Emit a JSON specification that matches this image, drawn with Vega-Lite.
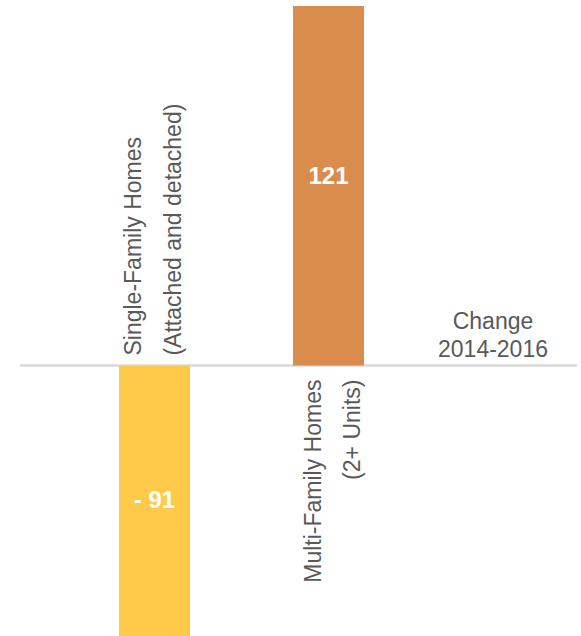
{
  "$schema": "https://vega.github.io/schema/vega-lite/v6.json",
  "width": 557,
  "height": 636,
  "autosize": {"type": "none"},
  "padding": {"left": 20, "right": 4, "top": 0, "bottom": 0},
  "background": "white",
  "config": {"view": {"stroke": null}, "font": "Liberation Sans"},
  "data": {"values": [
    {"category": "Single", "value": -91, "label": "- 91", "name": ["Single-Family Homes", "(Attached and detached)"]},
    {"category": "Multi", "value": 121, "label": "121", "name": ["Multi-Family Homes", "(2+ Units)"]}
  ]},
  "encoding": {
    "x": {"field": "category", "type": "nominal", "axis": null,
      "scale": {"domain": ["Single", "Multi", "Change"], "range": [99, 518], "paddingInner": 0.592, "paddingOuter": 0}}
  },
  "layer": [
    {"mark": {"type": "rule", "color": "#D9D9D9", "strokeWidth": 2},
     "encoding": {"x": null, "y": {"datum": 0, "type": "quantitative", "scale": {"domain": [-91, 123], "nice": false, "zero": false}, "axis": null}}},
    {"mark": {"type": "bar"},
     "encoding": {
       "y": {"field": "value", "type": "quantitative", "scale": {"domain": [-91, 123], "nice": false}, "axis": null},
       "y2": {"datum": 0},
       "color": {"field": "category", "type": "nominal", "scale": {"domain": ["Single", "Multi"], "range": ["#FFCA4A", "#D98C4B"]}, "legend": null}
     }},
    {"transform": [{"filter": "datum.value > 0"}],
     "mark": {"type": "text", "font": "Liberation Sans", "fontSize": 24, "fontWeight": "bold", "color": "white", "baseline": "middle", "dy": 171.5},
     "encoding": {"y": {"field": "value", "type": "quantitative"}, "text": {"field": "label"}}},
    {"transform": [{"filter": "datum.value < 0"}],
     "mark": {"type": "text", "font": "Liberation Sans", "fontSize": 24, "fontWeight": "bold", "color": "white", "baseline": "middle", "dy": -135.5},
     "encoding": {"y": {"field": "value", "type": "quantitative"}, "text": {"field": "label"}}},
    {"transform": [{"filter": "datum.value < 0"}],
     "mark": {"type": "text", "font": "Liberation Sans", "fontSize": 23, "color": "#595959", "angle": 270, "align": "left", "baseline": "middle", "lineHeight": 40, "dx": 10, "dy": -20},
     "encoding": {"y": {"datum": 0}, "text": {"field": "name"}}},
    {"transform": [{"filter": "datum.value > 0"}],
     "mark": {"type": "text", "font": "Liberation Sans", "fontSize": 23, "color": "#595959", "angle": 270, "align": "right", "baseline": "middle", "lineHeight": 39, "dx": -14, "dy": -15},
     "encoding": {"y": {"datum": 0}, "text": {"field": "name"}}},
    {"data": {"values": [{"category": "Change", "name": ["Change", "2014-2016"]}]},
     "mark": {"type": "text", "font": "Liberation Sans", "fontSize": 23, "color": "#595959", "align": "center", "baseline": "alphabetic", "lineHeight": 28, "dx": -9.5, "dy": -36.5},
     "encoding": {"y": {"datum": 0}, "text": {"field": "name"}}}
  ]
}
